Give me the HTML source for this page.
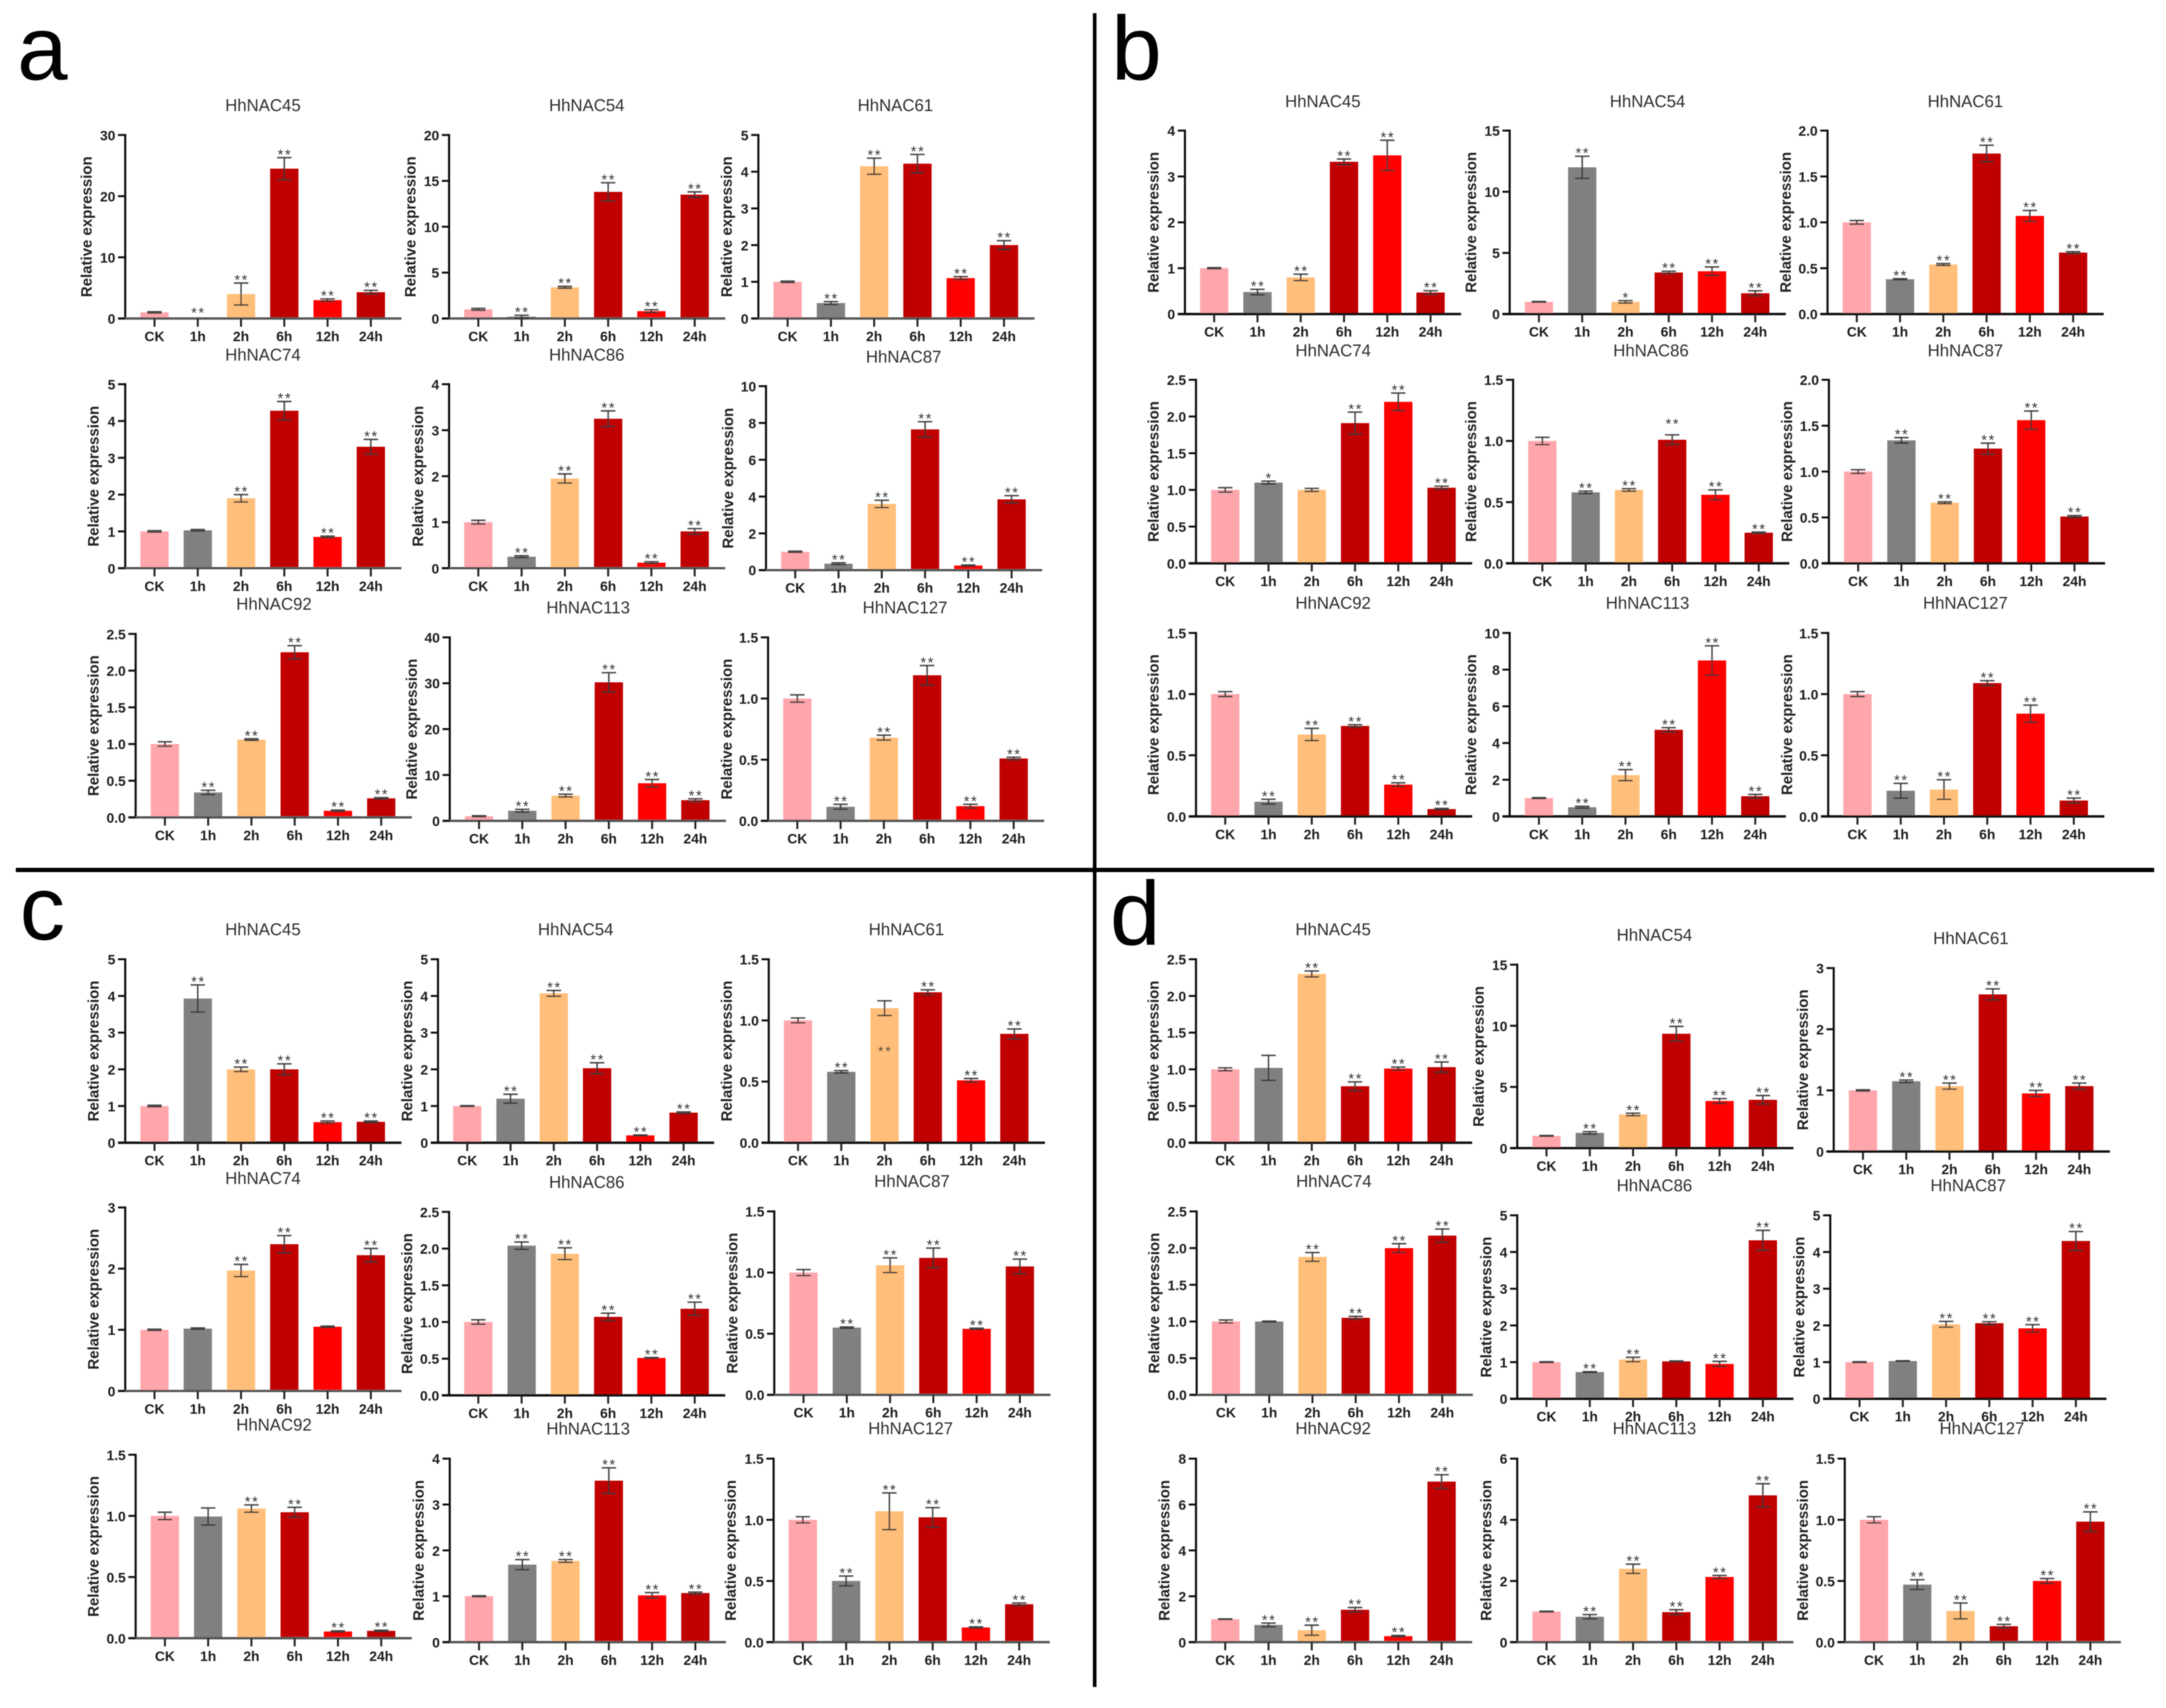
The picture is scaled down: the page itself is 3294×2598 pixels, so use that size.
<!DOCTYPE html>
<html lang="en">
<head>
<meta charset="utf-8">
<title>HhNAC relative expression</title>
<style>
html,body{margin:0;padding:0;background:#fff;}
svg{display:block;}
text{font-family:"Liberation Sans",sans-serif;}
.tick{font-size:21px;font-weight:bold;fill:#1c1c1c;}
.title{font-size:25.5px;fill:#2e2e2e;text-anchor:middle;}
.ylab{font-size:22.8px;font-weight:bold;fill:#222;text-anchor:middle;}
.star{font-size:22px;fill:#333;text-anchor:middle;letter-spacing:2.5px;}
.letter{font-size:138px;fill:#000;}
</style>
</head>
<body>
<svg id="fig" xmlns="http://www.w3.org/2000/svg" width="3294" height="2598" viewBox="0 0 3294 2598">
<defs><filter id="soft" x="0" y="0" width="100%" height="100%" filterUnits="userSpaceOnUse"><feGaussianBlur stdDeviation="0.9"/></filter></defs>
<rect x="0" y="0" width="3294" height="2598" fill="#fff"/>
<g id="root" filter="url(#soft)">
<rect x="1662" y="20" width="5.5" height="2546" fill="#000"/>
<rect x="24" y="1320" width="3252" height="6.5" fill="#000"/>
<text class="letter" x="26" y="121">a</text>
<text class="letter" x="1690" y="121">b</text>
<text class="letter" x="30" y="1429">c</text>
<text class="letter" x="1688" y="1437">d</text>
</g>
</svg>
<script>
const categories = ['CK','1h','2h','6h','12h','24h'];
const barColors = ['#FFA6AC','#808080','#FFBF7A','#C00000','#FF0000','#C00000'];
const allStars = [0,2,2,2,2,2];

const ticks5 = ['0','1','2','3','4','5'];
const ticks4 = ['0','1','2','3','4'];
const ticks3 = ['0','1','2','3'];
const ticks10e = ['0','2','4','6','8','10'];
const ticks8e = ['0','2','4','6','8'];
const ticks6e = ['0','2','4','6'];
const ticks15 = ['0','5','10','15'];
const ticks20 = ['0','5','10','15','20'];
const ticks30 = ['0','10','20','30'];
const ticks40 = ['0','10','20','30','40'];
const ticksD15 = ['0.0','0.5','1.0','1.5'];
const ticksD20 = ['0.0','0.5','1.0','1.5','2.0'];
const ticksD25 = ['0.0','0.5','1.0','1.5','2.0','2.5'];

const valuesA1 = [1,0.05,4,24.5,3,4.3];
const errorsA1 = [0.1,0,1.8,1.8,0.2,0.3];
const valuesA2 = [1,0.2,3.4,13.8,0.8,13.5];
const errorsA2 = [0.1,0.15,0.1,1,0.15,0.3];
const valuesA3 = [1,0.42,4.15,4.22,1.1,2.0];
const errorsA3 = [0.02,0.04,0.22,0.25,0.04,0.12];
const valuesA4 = [1,1.03,1.9,4.28,0.85,3.3];
const errorsA4 = [0.02,0.02,0.1,0.25,0.02,0.2];
const valuesA5 = [1,0.25,1.95,3.25,0.12,0.8];
const errorsA5 = [0.04,0.02,0.1,0.17,0.02,0.06];
const valuesA6 = [1,0.35,3.6,7.65,0.25,3.85];
const errorsA6 = [0.03,0.05,0.2,0.42,0.03,0.2];
const valuesA7 = [1,0.34,1.06,2.25,0.09,0.26];
const errorsA7 = [0.03,0.03,0.01,0.09,0.01,0.01];
const valuesA8 = [1,2.2,5.5,30.2,8.2,4.5];
const errorsA8 = [0.1,0.3,0.3,2.1,0.8,0.3];
const valuesA9 = [1,0.115,0.68,1.19,0.12,0.51];
const errorsA9 = [0.03,0.02,0.02,0.08,0.015,0.01];

const valuesB1 = [1,0.48,0.8,3.32,3.46,0.47];
const errorsB1 = [0.01,0.06,0.07,0.06,0.33,0.04];
const valuesB2 = [1,12,1,3.4,3.5,1.7];
const errorsB2 = [0.02,0.9,0.1,0.1,0.35,0.2];
const valuesB3 = [1,0.38,0.54,1.75,1.07,0.67];
const errorsB3 = [0.02,0.005,0.01,0.09,0.06,0.01];
const valuesB4 = [1,1.1,1,1.91,2.2,1.03];
const errorsB4 = [0.03,0.02,0.02,0.15,0.12,0.02];
const valuesB5 = [1,0.58,0.6,1.01,0.56,0.25];
const errorsB5 = [0.03,0.01,0.01,0.04,0.04,0.005];
const valuesB6 = [1,1.34,0.66,1.25,1.56,0.51];
const errorsB6 = [0.02,0.03,0.01,0.06,0.1,0.01];
const valuesB7 = [1,0.12,0.67,0.74,0.26,0.06];
const errorsB7 = [0.02,0.02,0.05,0.01,0.015,0.005];
const valuesB8 = [1,0.5,2.25,4.72,8.5,1.1];
const errorsB8 = [0.02,0.05,0.3,0.12,0.8,0.1];
const valuesB9 = [1,0.21,0.22,1.09,0.84,0.13];
const errorsB9 = [0.02,0.06,0.08,0.02,0.07,0.02];

const valuesC1 = [1,3.93,2,2,0.56,0.57];
const errorsC1 = [0.02,0.37,0.06,0.15,0.03,0.02];
const valuesC2 = [1,1.2,4.07,2.03,0.2,0.82];
const errorsC2 = [0.01,0.12,0.08,0.15,0.01,0.02];
const valuesC3 = [1,0.58,1.1,1.23,0.51,0.89];
const errorsC3 = [0.02,0.01,0.06,0.02,0.015,0.04];
const valuesC4 = [1,1.02,1.97,2.4,1.05,2.22];
const errorsC4 = [0.01,0.01,0.1,0.14,0.01,0.11];
const valuesC5 = [1,2.04,1.93,1.07,0.51,1.18];
const errorsC5 = [0.03,0.05,0.08,0.05,0.005,0.09];
const valuesC6 = [1,0.55,1.06,1.12,0.54,1.05];
const errorsC6 = [0.025,0.005,0.06,0.08,0.005,0.06];
const valuesC7 = [1,0.995,1.06,1.03,0.055,0.06];
const errorsC7 = [0.03,0.07,0.03,0.04,0.005,0.005];
const valuesC8 = [1,1.69,1.77,3.52,1.02,1.07];
const errorsC8 = [0.01,0.11,0.03,0.28,0.06,0.02];
const valuesC9 = [1,0.5,1.07,1.02,0.12,0.31];
const errorsC9 = [0.025,0.04,0.15,0.08,0.005,0.01];

const valuesD1 = [1,1.02,2.3,0.77,1.01,1.03];
const errorsD1 = [0.02,0.17,0.04,0.06,0.02,0.07];
const valuesD2 = [1,1.25,2.75,9.35,3.85,3.95];
const errorsD2 = [0.03,0.1,0.1,0.6,0.2,0.35];
const valuesD3 = [1,1.15,1.07,2.57,0.95,1.07];
const errorsD3 = [0.01,0.02,0.05,0.09,0.05,0.05];
const valuesD4 = [1,1,1.88,1.05,2,2.17];
const errorsD4 = [0.02,0.005,0.06,0.02,0.06,0.09];
const valuesD5 = [1,0.73,1.07,1.02,0.95,4.32];
const errorsD5 = [0.01,0.01,0.06,0.01,0.07,0.27];
const valuesD6 = [1,1.03,2.03,2.06,1.92,4.3];
const errorsD6 = [0.01,0.005,0.08,0.04,0.1,0.26];
const valuesD7 = [1,0.75,0.52,1.41,0.26,7];
const errorsD7 = [0.01,0.08,0.22,0.1,0.03,0.3];
const valuesD8 = [1,0.83,2.4,0.98,2.13,4.8];
const errorsD8 = [0.01,0.07,0.15,0.08,0.05,0.38];
const valuesD9 = [1,0.47,0.255,0.13,0.5,0.985];
const errorsD9 = [0.025,0.04,0.065,0.015,0.02,0.08];

const starsA4 = [0,0,2,2,2,2];
const starsB2 = [0,2,1,2,2,2];
const starsB4 = [0,1,0,2,2,2];
const starsC4 = [0,0,2,2,0,2];
const starsC7 = [0,0,2,2,2,2];
const starsD1 = [0,0,2,2,2,2];
const starsD5 = [0,2,2,0,2,2];

// Layout: quadrant, gene, values, errors, ticks, stars, then axis x, top, base, title x, title y, y-label x
// (layout positions are in quadrant-crop units, converted by the quadrant scale below)
const quadrants = {
  a:{x0:0,y0:130,sx:1.0523,sy:0.7462},
  b:{x0:1650,y0:130,sx:1.0485,sy:0.7462},
  c:{x0:0,y0:1380,sx:1.0523,sy:0.7462},
  d:{x0:1650,y0:1380,sx:1.0485,sy:0.7462}
};
const charts = [
 {id:'a1',q:'a',gene:'HhNAC45',v:valuesA1,e:errorsA1,t:ticks30,s:allStars,ax:181,top:101,base:475,tx:380,ty:40,lx:125,gray:1,starAt:{1:0.45}},
 {id:'a2',q:'a',gene:'HhNAC54',v:valuesA2,e:errorsA2,t:ticks20,s:allStars,ax:649,top:101,base:475,tx:848,ty:40,lx:593,gray:1},
 {id:'a3',q:'a',gene:'HhNAC61',v:valuesA3,e:errorsA3,t:ticks5,s:allStars,ax:1096,top:101,base:475,tx:1294,ty:40,lx:1050,gray:1},
 {id:'a4',q:'a',gene:'HhNAC74',v:valuesA4,e:errorsA4,t:ticks5,s:starsA4,ax:181,top:609,base:984,tx:380,ty:549,lx:135,gray:1},
 {id:'a5',q:'a',gene:'HhNAC86',v:valuesA5,e:errorsA5,t:ticks4,s:allStars,ax:649,top:609,base:984,tx:848,ty:549,lx:604,gray:1},
 {id:'a6',q:'a',gene:'HhNAC87',v:valuesA6,e:errorsA6,t:ticks10e,s:allStars,ax:1107,top:613,base:988,tx:1306,ty:553,lx:1052,gray:1},
 {id:'a7',q:'a',gene:'HhNAC92',v:valuesA7,e:errorsA7,t:ticksD25,s:allStars,ax:196,top:1118,base:1492,tx:396,ty:1057,lx:135,gray:1},
 {id:'a8',q:'a',gene:'HhNAC113',v:valuesA8,e:errorsA8,t:ticks40,s:allStars,ax:650,top:1125,base:1499,tx:850,ty:1064,lx:595,gray:1},
 {id:'a9',q:'a',gene:'HhNAC127',v:valuesA9,e:errorsA9,t:ticksD15,s:allStars,ax:1110,top:1125,base:1499,tx:1308,ty:1064,lx:1050,gray:1},

 {id:'b1',q:'b',gene:'HhNAC45',v:valuesB1,e:errorsB1,t:ticks4,s:allStars,ax:145,top:92,base:466,tx:345,ty:32,lx:99},
 {id:'b2',q:'b',gene:'HhNAC54',v:valuesB2,e:errorsB2,t:ticks15,s:starsB2,ax:616,top:92,base:466,tx:816,ty:32,lx:560},
 {id:'b3',q:'b',gene:'HhNAC61',v:valuesB3,e:errorsB3,t:ticksD20,s:allStars,ax:1077,top:92,base:466,tx:1277,ty:32,lx:1016},
 {id:'b4',q:'b',gene:'HhNAC74',v:valuesB4,e:errorsB4,t:ticksD25,s:starsB4,ax:161,top:600,base:974,tx:360,ty:540,lx:99},
 {id:'b5',q:'b',gene:'HhNAC86',v:valuesB5,e:errorsB5,t:ticksD15,s:allStars,ax:621,top:600,base:974,tx:821,ty:540,lx:560,starAt:{3:1.115}},
 {id:'b6',q:'b',gene:'HhNAC87',v:valuesB6,e:errorsB6,t:ticksD20,s:allStars,ax:1079,top:600,base:974,tx:1277,ty:540,lx:1018},
 {id:'b7',q:'b',gene:'HhNAC92',v:valuesB7,e:errorsB7,t:ticksD15,s:allStars,ax:161,top:1116,base:1490,tx:360,ty:1055,lx:99},
 {id:'b8',q:'b',gene:'HhNAC113',v:valuesB8,e:errorsB8,t:ticks10e,s:allStars,ax:616,top:1116,base:1490,tx:816,ty:1055,lx:560},
 {id:'b9',q:'b',gene:'HhNAC127',v:valuesB9,e:errorsB9,t:ticksD15,s:allStars,ax:1078,top:1116,base:1490,tx:1277,ty:1055,lx:1018},

 {id:'c1',q:'c',gene:'HhNAC45',v:valuesC1,e:errorsC1,t:ticks5,s:allStars,ax:181,top:106,base:480,tx:380,ty:45,lx:135},
 {id:'c2',q:'c',gene:'HhNAC54',v:valuesC2,e:errorsC2,t:ticks5,s:allStars,ax:633,top:106,base:480,tx:832,ty:45,lx:588},
 {id:'c3',q:'c',gene:'HhNAC61',v:valuesC3,e:errorsC3,t:ticksD15,s:allStars,ax:1111,top:106,base:480,tx:1310,ty:45,lx:1050,starAt:{2:0.722}},
 {id:'c4',q:'c',gene:'HhNAC74',v:valuesC4,e:errorsC4,t:ticks3,s:starsC4,ax:181,top:612,base:986,tx:380,ty:552,lx:135,gray:1},
 {id:'c5',q:'c',gene:'HhNAC86',v:valuesC5,e:errorsC5,t:ticksD25,s:allStars,ax:649,top:621,base:995,tx:848,ty:560,lx:588},
 {id:'c6',q:'c',gene:'HhNAC87',v:valuesC6,e:errorsC6,t:ticksD15,s:allStars,ax:1119,top:620,base:994,tx:1318,ty:558,lx:1058,gray:1},
 {id:'c7',q:'c',gene:'HhNAC92',v:valuesC7,e:errorsC7,t:ticksD15,s:starsC7,ax:196,top:1116,base:1490,tx:396,ty:1055,lx:135,gray:1},
 {id:'c8',q:'c',gene:'HhNAC113',v:valuesC8,e:errorsC8,t:ticks4,s:allStars,ax:650,top:1124,base:1498,tx:850,ty:1063,lx:605,gray:1},
 {id:'c9',q:'c',gene:'HhNAC127',v:valuesC9,e:errorsC9,t:ticksD15,s:allStars,ax:1118,top:1124,base:1498,tx:1316,ty:1062,lx:1056,gray:1},

 {id:'d1',q:'d',gene:'HhNAC45',v:valuesD1,e:errorsD1,t:ticksD25,s:starsD1,ax:161,top:106,base:480,tx:360,ty:45,lx:99},
 {id:'d2',q:'d',gene:'HhNAC54',v:valuesD2,e:errorsD2,t:ticks15,s:allStars,ax:627,top:117,base:491,tx:826,ty:56,lx:571},
 {id:'d3',q:'d',gene:'HhNAC61',v:valuesD3,e:errorsD3,t:ticks3,s:allStars,ax:1086,top:124,base:498,tx:1285,ty:63,lx:1041},
 {id:'d4',q:'d',gene:'HhNAC74',v:valuesD4,e:errorsD4,t:ticksD25,s:starsD1,ax:162,top:620,base:994,tx:361,ty:558,lx:100,gray:1},
 {id:'d5',q:'d',gene:'HhNAC86',v:valuesD5,e:errorsD5,t:ticks5,s:starsD5,ax:627,top:628,base:1002,tx:826,ty:567,lx:582},
 {id:'d6',q:'d',gene:'HhNAC87',v:valuesD6,e:errorsD6,t:ticks5,s:starsD1,ax:1081,top:628,base:1002,tx:1281,ty:567,lx:1036},
 {id:'d7',q:'d',gene:'HhNAC92',v:valuesD7,e:errorsD7,t:ticks8e,s:allStars,ax:161,top:1124,base:1498,tx:360,ty:1062,lx:115,gray:1},
 {id:'d8',q:'d',gene:'HhNAC113',v:valuesD8,e:errorsD8,t:ticks6e,s:allStars,ax:627,top:1124,base:1498,tx:826,ty:1062,lx:582,gray:1},
 {id:'d9',q:'d',gene:'HhNAC127',v:valuesD9,e:errorsD9,t:ticksD15,s:allStars,ax:1102,top:1124,base:1498,tx:1301,ty:1062,lx:1041,gray:1}
];

const NS = 'http://www.w3.org/2000/svg';
const root = document.getElementById('root');
function make(tag, props, parent, txt){
  const n = document.createElementNS(NS, tag);
  for (const k in props) n.setAttribute(k, props[k]);
  if (txt !== undefined) n.textContent = txt;
  parent.appendChild(n);
  return n;
}

charts.forEach(function(c){
  const Q = quadrants[c.q];
  const ax = Q.x0 + c.ax * Q.sx;
  const top = Q.y0 + c.top * Q.sy;
  const base = Q.y0 + c.base * Q.sy;
  const yMax = parseFloat(c.t[c.t.length - 1]);
  const yScale = function(v){ return base - (v / yMax) * (base - top); };
  const xScale = function(i){ return ax + 44.5 + i * 65.8; };
  const axisColor = c.gray ? '#555' : '#111';

  const g = make('g', {}, root);
  
  

  const title = make('text', {class:'title', x:Q.x0 + c.tx * Q.sx, y:Q.y0 + c.ty * Q.sy + 9}, g, c.gene);
  
  

  const lx = Q.x0 + c.lx * Q.sx;
  const lab = make('text', {class:'ylab', transform:'translate(' + (lx + 8) + ',' + ((top + base) / 2) + ') rotate(-90)', x:0, y:0}, g, 'Relative expression');
  
  

  c.v.forEach(function(val, i){
    const y = yScale(val);
    const bar = make('rect', {x:xScale(i) - 21.5, y:y, width:43, height:base - y, fill:barColors[i]}, g);
    
    
  });

  const yAxis = make('line', {x1:ax, x2:ax, y1:top - 1.5, y2:base, stroke:'#111', 'stroke-width':3.2}, g);
  
  

  const xAxis = make('line', {x1:ax - 11, x2:ax + 420, y1:base, y2:base, stroke:axisColor, 'stroke-width':3.6}, g);
  
  

  c.t.forEach(function(label){
    const y = yScale(parseFloat(label));
    const tick = make('line', {x1:ax - 11, x2:ax, y1:y, y2:y, stroke:'#111', 'stroke-width':3}, g);
    
    
    const tl = make('text', {class:'tick', x:ax - 15, y:y + 8, 'text-anchor':'end'}, g, label);
    
    
  });

  categories.forEach(function(cat, i){
    const x = xScale(i);
    const tick = make('line', {x1:x, x2:x, y1:base, y2:base + 12.5, stroke:'#222', 'stroke-width':3}, g);
    
    
    const tl = make('text', {class:'tick', x:x, y:base + 34.5, 'text-anchor':'middle'}, g, cat);
    
    
  });

  c.v.forEach(function(val, i){
    const x = xScale(i), err = c.e[i];
    if (err > 0) {
      const hi = yScale(val + err), lo = yScale(Math.max(0, val - err));
      const stem = make('line', {x1:x, x2:x, y1:hi, y2:lo, stroke:'#333', 'stroke-width':2.4, 'stroke-opacity':0.85}, g);
      
      
      const capHi = make('line', {x1:x - 11, x2:x + 11, y1:hi, y2:hi, stroke:'#333', 'stroke-width':2.4, 'stroke-opacity':0.85}, g);
      
      
      const capLo = make('line', {x1:x - 11, x2:x + 11, y1:lo, y2:lo, stroke:'#333', 'stroke-width':2.4, 'stroke-opacity':0.85}, g);
      
      
    }
    const n = c.s[i];
    if (n > 0) {
      const anchor = (c.starAt && c.starAt[i] !== undefined) ? c.starAt[i] : val + err;
      const star = make('text', {class:'star', x:x + 1, y:yScale(anchor) + 3}, g, n === 2 ? '**' : '*');
      
      
    }
  });
});
</script>
</body>
</html>
